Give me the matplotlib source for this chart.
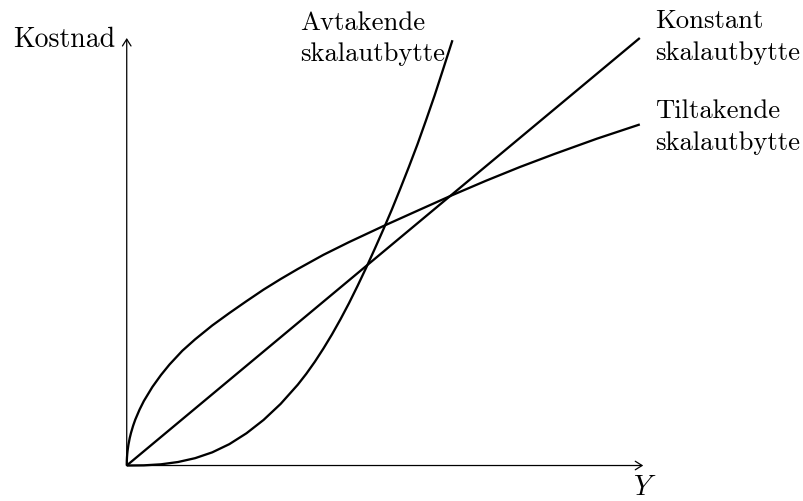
import matplotlib
matplotlib.use("Agg")
import matplotlib.pyplot as plt

plt.rcParams["font.family"] = ["cmr10", "DejaVu Serif"]
plt.rcParams["mathtext.fontset"] = "cm"
plt.rcParams["axes.formatter.use_mathtext"] = True

# values (x in output units, y in cost units)
konstant_x = [0, 6.0]
konstant_y = [0, 5.0]

avtakende_x = [0, 0.2, 0.4, 0.6, 0.8, 1.0, 1.2, 1.4, 1.6, 1.8, 2.0, 2.1, 2.2, 2.3, 2.4,
               2.5, 2.6, 2.7, 2.8, 2.9, 3.0, 3.1, 3.2, 3.3, 3.4, 3.5, 3.6, 3.7, 3.809]
avtakende_y = [0, 0.002, 0.014, 0.041, 0.086, 0.154, 0.250, 0.377, 0.533, 0.721, 0.945,
               1.073, 1.214, 1.368, 1.533, 1.711, 1.900, 2.102, 2.313, 2.533, 2.759,
               2.993, 3.240, 3.494, 3.757, 4.038, 4.327, 4.635, 4.974]

tiltakende_x = [0, 0.001, 0.003, 0.006, 0.01, 0.02, 0.035, 0.05, 0.075, 0.1, 0.15, 0.2,
                0.3, 0.4, 0.5, 0.65, 0.8, 1.0, 1.2, 1.4, 1.6, 1.8, 2.0, 2.3, 2.6, 3.0,
                3.4, 3.8, 4.2, 4.6, 5.0, 5.5, 6.0]
tiltakende_y = [0, 0.056, 0.096, 0.135, 0.174, 0.244, 0.321, 0.382, 0.466, 0.537, 0.654,
                0.754, 0.919, 1.058, 1.181, 1.342, 1.476, 1.638, 1.783, 1.922, 2.057,
                2.181, 2.298, 2.464, 2.613, 2.800, 2.980, 3.159, 3.330, 3.492, 3.643,
                3.823, 3.989]

x_axis_end = 6.04
y_axis_end = 5.0

# label lines and where they sit (left x, first baseline y)
labels = [
    (["Avtakende", "skalautbytte"], 2.029, 5.105),
    (["Konstant", "skalautbytte"], 6.179, 5.125),
    (["Tiltakende", "skalautbytte"], 6.179, 4.073),
]
line_step = 0.368
fs = 19.2

fig = plt.figure(figsize=(8.04, 5.02), dpi=100)
ax = fig.add_axes([0, 0, 1, 1])
ax.set_xlim(-1.482, 7.920)
ax.set_ylim(-0.415, 5.456)
ax.axis("off")

arrow = dict(arrowstyle="->,head_length=0.35,head_width=0.22", lw=0.9, color="black",
             shrinkA=0, shrinkB=0, mutation_scale=14)
ax.annotate("", xy=(x_axis_end, 0), xytext=(0, 0), arrowprops=arrow)
ax.annotate("", xy=(0, y_axis_end), xytext=(0, 0), arrowprops=arrow)

for xs, ys in [(konstant_x, konstant_y), (avtakende_x, avtakende_y), (tiltakende_x, tiltakende_y)]:
    ax.plot(xs, ys, color="black", lw=1.65, solid_capstyle="butt", solid_joinstyle="round")

ax.text(-0.137, 4.91, "Kostnad", ha="right", va="baseline", fontsize=fs + 0.8)
ax.text(6.06, -0.333, r"$Y$", ha="center", va="baseline", fontsize=fs + 1)

for lines, lx, ly in labels:
    for i, line in enumerate(lines):
        ax.text(lx, ly - i * line_step, line, ha="left", va="baseline", fontsize=fs)

fig.savefig("out.png", dpi=100)
